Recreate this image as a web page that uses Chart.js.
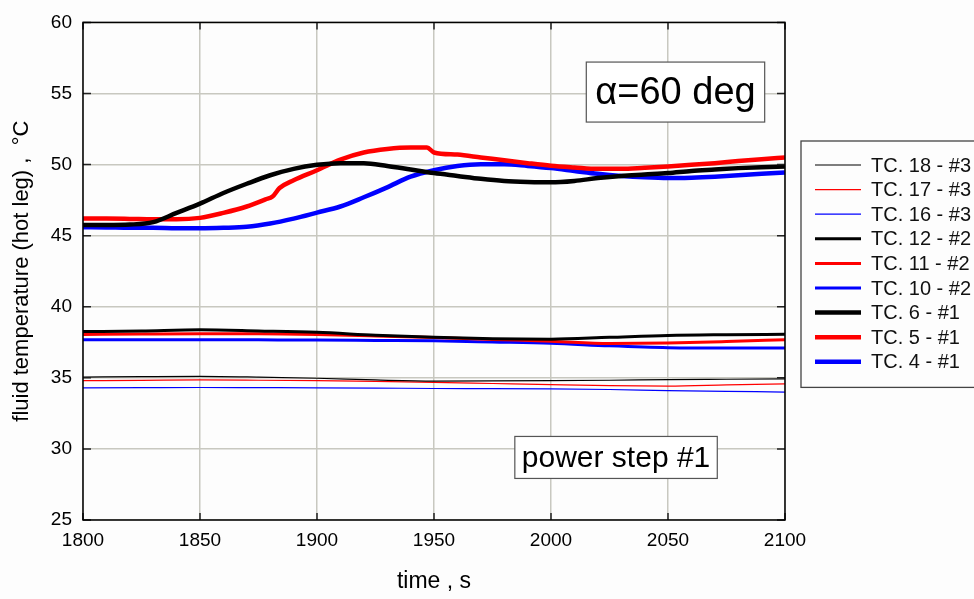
<!DOCTYPE html>
<html>
<head>
<meta charset="utf-8">
<script src="https://cdn.jsdelivr.net/npm/chart.js@4"></script>
<style>
  body { margin: 0; background: #fdfdfd; }
  #wrap { width: 974px; height: 599px; }
</style>
</head>
<body>
<div id="wrap"><canvas id="chart"></canvas></div>
<script>
// time grids (s)
const TIME_10 = [1800, 1810, 1820, 1830, 1840, 1850, 1860, 1870, 1880, 1890, 1900,
                 1910, 1920, 1930, 1940, 1950, 1960, 1970, 1980, 1990, 2000,
                 2010, 2020, 2030, 2040, 2050, 2060, 2070, 2080, 2090, 2100];
const TIME_25 = [1800, 1825, 1850, 1875, 1900, 1925, 1950, 1975, 2000, 2025, 2050, 2075, 2100];
const TIME_TC5 = [1800, 1810, 1820, 1830, 1840, 1850, 1860, 1870, 1878, 1881, 1884, 1890, 1900,
                  1910, 1920, 1930, 1940, 1947, 1950, 1960, 1970, 1980, 1990, 2000,
                  2010, 2020, 2030, 2040, 2050, 2060, 2070, 2080, 2090, 2100];

// level #3 (thin)
const TC18 = [35.05, 35.08, 35.1, 35.05, 34.97, 34.85, 34.77, 34.78, 34.8, 34.83, 34.87, 34.9, 34.93];
const TC17 = [34.8, 34.82, 34.85, 34.83, 34.8, 34.75, 34.68, 34.6, 34.52, 34.45, 34.42, 34.5, 34.58];
const TC16 = [34.3, 34.31, 34.32, 34.31, 34.3, 34.28, 34.25, 34.24, 34.22, 34.18, 34.1, 34.05, 34.0];

// level #2 (medium)
const TC12 = [38.25, 38.3, 38.38, 38.3, 38.2, 38.0, 37.85, 37.75, 37.72, 37.85, 37.98, 38.03, 38.06];
const TC11 = [38.05, 38.08, 38.1, 38.1, 38.05, 37.95, 37.83, 37.7, 37.58, 37.42, 37.45, 37.55, 37.68];
const TC10 = [37.68, 37.68, 37.68, 37.67, 37.66, 37.63, 37.6, 37.52, 37.43, 37.25, 37.12, 37.09, 37.1];

// level #1 (thick)
const TC6 = [45.75, 45.75, 45.78, 45.95, 46.6, 47.25, 48.0, 48.65, 49.25, 49.7, 49.98,
             50.1, 50.1, 49.9, 49.65, 49.4, 49.2, 49.0, 48.85, 48.78, 48.75,
             48.85, 49.05, 49.2, 49.3, 49.4, 49.55, 49.65, 49.75, 49.82, 49.87];
const TC5 = [46.2, 46.2, 46.18, 46.15, 46.15, 46.25, 46.6, 47.05, 47.55, 47.75, 48.35, 48.9, 49.6,
             50.35, 50.85, 51.1, 51.2, 51.2, 50.85, 50.7, 50.5, 50.3, 50.1, 49.92,
             49.8, 49.7, 49.7, 49.78, 49.87, 49.98, 50.1, 50.25, 50.38, 50.5];
const TC4 = [45.6, 45.58, 45.55, 45.55, 45.52, 45.52, 45.55, 45.62, 45.85, 46.2, 46.62,
             47.05, 47.7, 48.4, 49.15, 49.6, 49.9, 50.02, 50.02, 49.9, 49.75,
             49.55, 49.35, 49.2, 49.1, 49.05, 49.08, 49.15, 49.25, 49.35, 49.45];

const FONT = '"Liberation Sans", Arial, sans-serif';

function points(times, values) {
    return times.map((t, i) => ({ x: t, y: values[i] }));
}

function series(label, times, values, color, width) {
    return {
        label: label,
        data: points(times, values),
        borderColor: color,
        backgroundColor: color,
        borderWidth: width,
        pointRadius: 0,
        tension: 0.4,
        cubicInterpolationMode: 'monotone',
        fill: false
    };
}

// short ticks pointing inside the frame, on all four sides, plus the frame itself
const frameTicks = {
    id: 'frameTicks',
    afterDatasetsDraw(chart) {
        const { ctx, chartArea: a, scales } = chart;
        ctx.save();
        ctx.strokeStyle = '#222';
        ctx.lineWidth = 1.5;
        ctx.beginPath();
        scales.x.ticks.forEach(t => {
            const px = scales.x.getPixelForValue(t.value);
            ctx.moveTo(px, a.bottom); ctx.lineTo(px, a.bottom - 7);
            ctx.moveTo(px, a.top); ctx.lineTo(px, a.top + 7);
        });
        scales.y.ticks.forEach(t => {
            const py = scales.y.getPixelForValue(t.value);
            ctx.moveTo(a.left, py); ctx.lineTo(a.left + 8, py);
            ctx.moveTo(a.right, py); ctx.lineTo(a.right - 8, py);
        });
        ctx.stroke();
        ctx.strokeStyle = '#000';
        ctx.lineWidth = 1.5;
        ctx.strokeRect(a.left, a.top, a.right - a.left, a.bottom - a.top);
        ctx.restore();
    }
};

// text boxes inside the plot
const notes = [
    { text: 'α=60 deg', t: 2053.2, v: 55.1, size: 38, padX: 9, padY: 11 },
    { text: 'power step #1', t: 2027.8, v: 29.4, size: 30, padX: 7, padY: 6 }
];

const noteBoxes = {
    id: 'noteBoxes',
    afterDraw(chart) {
        const { ctx, scales } = chart;
        ctx.save();
        notes.forEach(n => {
            ctx.font = n.size + 'px ' + FONT;
            const w = ctx.measureText(n.text).width + 2 * n.padX;
            const h = n.size + 2 * n.padY;
            const cx = scales.x.getPixelForValue(n.t);
            const cy = scales.y.getPixelForValue(n.v);
            ctx.fillStyle = '#fff';
            ctx.fillRect(cx - w / 2, cy - h / 2, w, h);
            ctx.strokeStyle = '#555';
            ctx.lineWidth = 1.2;
            ctx.strokeRect(cx - w / 2, cy - h / 2, w, h);
            ctx.fillStyle = '#000';
            ctx.textAlign = 'center';
            ctx.textBaseline = 'middle';
            ctx.fillText(n.text, cx, cy + 1);
        });
        ctx.restore();
    }
};

// legend drawn as a framed box to the right of the plot
const boxLegend = {
    id: 'boxLegend',
    afterDraw(chart) {
        const { ctx, chartArea: a } = chart;
        const sets = chart.data.datasets;
        const left = a.right + 16, top = 141, rowH = 24.6;
        ctx.save();
        ctx.strokeStyle = '#444';
        ctx.lineWidth = 1.3;
        ctx.strokeRect(left, top, 220, rowH * sets.length + 25);
        ctx.font = '20px ' + FONT;
        ctx.textBaseline = 'middle';
        ctx.fillStyle = '#111';
        sets.forEach((ds, i) => {
            const y = top + 24 + i * rowH;
            ctx.strokeStyle = ds.borderColor;
            ctx.lineWidth = ds.borderWidth;
            ctx.beginPath();
            ctx.moveTo(left + 14, y);
            ctx.lineTo(left + 60, y);
            ctx.stroke();
            ctx.fillText(ds.label, left + 70, y + 1);
        });
        ctx.restore();
    }
};

document.addEventListener('DOMContentLoaded', function () {
    Chart.defaults.font.family = FONT;
    Chart.defaults.color = '#000';

    const datasets = [
        series('TC. 18 - #3', TIME_25, TC18, '#000000', 1.2),
        series('TC. 17 - #3', TIME_25, TC17, '#ff0000', 1.2),
        series('TC. 16 - #3', TIME_25, TC16, '#0000ff', 1.2),
        series('TC. 12 - #2', TIME_25, TC12, '#000000', 3),
        series('TC. 11 - #2', TIME_25, TC11, '#ff0000', 3),
        series('TC. 10 - #2', TIME_25, TC10, '#0000ff', 3),
        series('TC. 6 - #1', TIME_10, TC6, '#000000', 4.5),
        series('TC. 5 - #1', TIME_TC5, TC5, '#ff0000', 4.5),
        series('TC. 4 - #1', TIME_10, TC4, '#0000ff', 4.5)
    ];

    new Chart(document.getElementById('chart'), {
        type: 'line',
        data: { datasets: datasets },
        options: {
            responsive: true,
            maintainAspectRatio: false,
            animation: false,
            layout: { padding: { left: 0, right: 189, top: 18, bottom: 0 } },
            plugins: {
                legend: { display: false },
                tooltip: { enabled: false }
            },
            scales: {
                x: {
                    type: 'linear',
                    min: 1800,
                    max: 2100,
                    ticks: {
                        stepSize: 50, font: { size: 19 }, padding: 9, maxRotation: 0,
                        callback: v => String(v)
                    },
                    grid: { color: '#c8c8c0', lineWidth: 1.5, drawTicks: false },
                    border: { display: false },
                    title: { display: true, text: 'time , s', font: { size: 23 }, padding: { top: 0, bottom: 4 } },
                    afterFit(scale) { scale.height = 79; }
                },
                y: {
                    min: 25,
                    max: 60,
                    ticks: { stepSize: 5, font: { size: 19 }, padding: 11 },
                    grid: { color: '#c8c8c0', lineWidth: 1.5, drawTicks: false },
                    border: { display: false },
                    title: { display: true, text: 'fluid temperature (hot leg) ,  °C', font: { size: 22 }, padding: { top: 9, bottom: 0 } },
                    afterFit(scale) { scale.width = 83; }
                }
            }
        },
        plugins: [frameTicks, noteBoxes, boxLegend]
    });
});
</script>
</body>
</html>
